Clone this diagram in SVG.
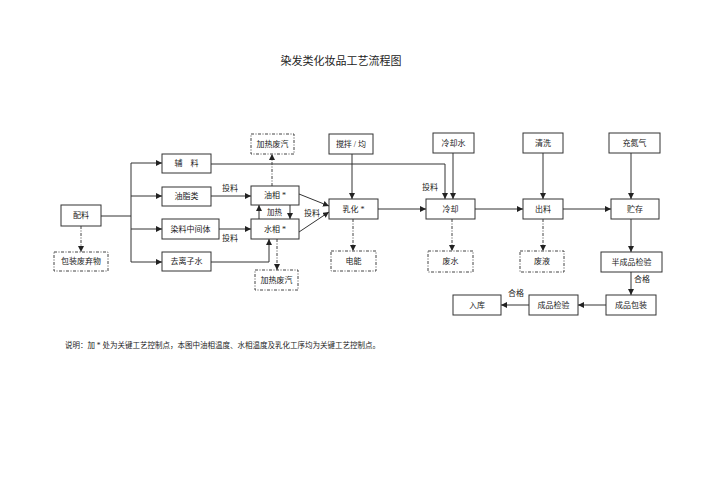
<svg xmlns="http://www.w3.org/2000/svg" width="708" height="500" viewBox="0 0 708 500">
<style>
text{font-family:"Liberation Serif","Noto Sans CJK SC",serif;fill:#222;}
.t{font-size:8px;text-anchor:middle;dominant-baseline:central;}
.b{fill:#fff;stroke:#333;stroke-width:1;}
.d{fill:#fff;stroke:#444;stroke-width:1;stroke-dasharray:3,1.5,1,1.5;}
.l{fill:none;stroke:#333;stroke-width:1;}
.ld{fill:none;stroke:#444;stroke-width:1;stroke-dasharray:3,1.5,1,1.5;}
.lb{font-size:8px;}
</style>
<defs>
<marker id="a" viewBox="0 0 10 10" refX="10" refY="5" markerWidth="6" markerHeight="6" orient="auto" markerUnits="userSpaceOnUse">
<path d="M0,0 L10,5 L0,10 Z" fill="#222"/>
</marker>
</defs>
<rect width="708" height="500" fill="#fff"/>
<text x="341" y="61" style="font-size:11px;text-anchor:middle;dominant-baseline:central;">染发类化妆品工艺流程图</text>

<g id="connectors">
<line class="ld" x1="81" y1="226" x2="81" y2="252" marker-end="url(#a)"/>
<polyline class="l" points="101,216 131,216"/>
<line class="l" x1="131" y1="163" x2="131" y2="262"/>
<line class="l" x1="131" y1="163" x2="162" y2="163" marker-end="url(#a)"/>
<line class="l" x1="131" y1="196" x2="162" y2="196" marker-end="url(#a)"/>
<line class="l" x1="131" y1="229" x2="162" y2="229" marker-end="url(#a)"/>
<line class="l" x1="131" y1="262" x2="162" y2="262" marker-end="url(#a)"/>
<polyline class="l" points="211,164 445,164 445,199" marker-end="url(#a)"/>
<line class="l" x1="211" y1="196" x2="251" y2="196" marker-end="url(#a)"/>
<line class="l" x1="219" y1="229" x2="251" y2="229" marker-end="url(#a)"/>
<polyline class="l" points="211,262 269,262 269,239" marker-end="url(#a)"/>
<line class="l" x1="259" y1="219" x2="259" y2="205" marker-end="url(#a)"/>
<line class="l" x1="290" y1="205" x2="290" y2="219" marker-end="url(#a)"/>
<line class="l" x1="299" y1="194" x2="329" y2="206" marker-end="url(#a)"/>
<line class="l" x1="299" y1="232" x2="329" y2="212" marker-end="url(#a)"/>
<line class="ld" x1="272" y1="186" x2="272" y2="154" marker-end="url(#a)"/>
<line class="ld" x1="277" y1="239" x2="277" y2="270" marker-end="url(#a)"/>
<line class="l" x1="352" y1="154" x2="352" y2="199" marker-end="url(#a)"/>
<line class="ld" x1="353" y1="219" x2="353" y2="251" marker-end="url(#a)"/>
<line class="l" x1="378" y1="209" x2="426" y2="209" marker-end="url(#a)"/>
<line class="l" x1="453" y1="153" x2="453" y2="199" marker-end="url(#a)"/>
<line class="ld" x1="452" y1="219" x2="452" y2="251" marker-end="url(#a)"/>
<line class="l" x1="475" y1="209" x2="523" y2="209" marker-end="url(#a)"/>
<line class="l" x1="543" y1="153" x2="543" y2="199" marker-end="url(#a)"/>
<line class="ld" x1="543" y1="219" x2="543" y2="251" marker-end="url(#a)"/>
<line class="l" x1="563" y1="209" x2="611" y2="209" marker-end="url(#a)"/>
<line class="l" x1="631" y1="153" x2="631" y2="199" marker-end="url(#a)"/>
<line class="l" x1="631" y1="219" x2="631" y2="252" marker-end="url(#a)"/>
<line class="l" x1="631" y1="272" x2="631" y2="295" marker-end="url(#a)"/>
<line class="l" x1="606" y1="305" x2="578" y2="305" marker-end="url(#a)"/>
<line class="l" x1="529" y1="305" x2="501" y2="305" marker-end="url(#a)"/>
<text class="lb" x="222" y="191">投料</text>
<text class="lb" x="222" y="241">投料</text>
<text class="lb" x="274.5" y="215" style="font-size:7.5px;text-anchor:middle;">加热</text>
<text class="lb" x="304" y="216">投料</text>
<text class="lb" x="422" y="190">投料</text>
<text class="lb" x="634" y="282">合格</text>
<text class="lb" x="508" y="296">合格</text>
</g>

<g id="n_peiliao"><rect class="b" x="61" y="205" width="40" height="21"/><text class="t" x="81" y="215.5">配料</text></g>
<g id="n_baozhuang"><rect class="d" x="54" y="252" width="54" height="19"/><text class="t" x="81" y="261.5">包装废弃物</text></g>
<g id="n_fuliao"><rect class="b" x="162" y="154" width="49" height="19"/><text class="t" x="186.5" y="163.5">辅　料</text></g>
<g id="n_youzhi"><rect class="b" x="162" y="187" width="49" height="19"/><text class="t" x="186.5" y="196.5">油脂类</text></g>
<g id="n_ranliao"><rect class="b" x="162" y="219" width="57" height="20"/><text class="t" x="190.5" y="229">染料中间体</text></g>
<g id="n_qulizi"><rect class="b" x="162" y="252" width="49" height="19"/><text class="t" x="186.5" y="261.5">去离子水</text></g>
<g id="n_jiare1"><rect class="d" x="251" y="134" width="43" height="20"/><text class="t" x="272.5" y="144">加热废汽</text></g>
<g id="n_youxiang"><rect class="b" x="251" y="186" width="48" height="19"/><text class="t" x="275" y="195.5">油相 *</text></g>
<g id="n_shuixiang"><rect class="b" x="251" y="219" width="48" height="20"/><text class="t" x="275" y="229">水相 *</text></g>
<g id="n_jiare2"><rect class="d" x="255" y="270" width="43" height="20"/><text class="t" x="276.5" y="280">加热废汽</text></g>
<g id="n_jiaoban"><rect class="b" x="329" y="134" width="44" height="20"/><text class="t" x="351" y="144">搅拌 / 均</text></g>
<g id="n_ruhua"><rect class="b" x="329" y="199" width="49" height="20"/><text class="t" x="353.5" y="209">乳化 *</text></g>
<g id="n_dianneng"><rect class="d" x="331" y="251" width="45" height="20"/><text class="t" x="353.5" y="261">电能</text></g>
<g id="n_lengqueshui"><rect class="b" x="433" y="133" width="41" height="20"/><text class="t" x="453.5" y="143">冷却水</text></g>
<g id="n_lengque"><rect class="b" x="426" y="199" width="49" height="20"/><text class="t" x="450.5" y="209">冷却</text></g>
<g id="n_feishui"><rect class="d" x="428" y="251" width="45" height="21"/><text class="t" x="450.5" y="261.5">废水</text></g>
<g id="n_qingxi"><rect class="b" x="523" y="133" width="40" height="20"/><text class="t" x="543" y="143">清洗</text></g>
<g id="n_chuliao"><rect class="b" x="523" y="199" width="40" height="20"/><text class="t" x="543" y="209">出料</text></g>
<g id="n_feiye"><rect class="d" x="520" y="251" width="44" height="21"/><text class="t" x="542" y="261.5">废液</text></g>
<g id="n_chongdan"><rect class="b" x="609" y="133" width="51" height="20"/><text class="t" x="634.5" y="143">充氮气</text></g>
<g id="n_zhucun"><rect class="b" x="611" y="199" width="48" height="20"/><text class="t" x="635" y="209">贮存</text></g>
<g id="n_banchengpin"><rect class="b" x="601" y="252" width="61" height="20"/><text class="t" x="631.5" y="262">半成品检验</text></g>
<g id="n_chengpinbz"><rect class="b" x="606" y="295" width="50" height="20"/><text class="t" x="631" y="305">成品包装</text></g>
<g id="n_chengpinjy"><rect class="b" x="529" y="295" width="49" height="20"/><text class="t" x="553.5" y="305">成品检验</text></g>
<g id="n_ruku"><rect class="b" x="453" y="295" width="48" height="20"/><text class="t" x="477" y="305">入库</text></g>

<text x="65" y="345" style="font-size:7.5px;dominant-baseline:central;">说明：加 * 处为关键工艺控制点，本图中油相温度、水相温度及乳化工序均为关键工艺控制点。</text>
</svg>
